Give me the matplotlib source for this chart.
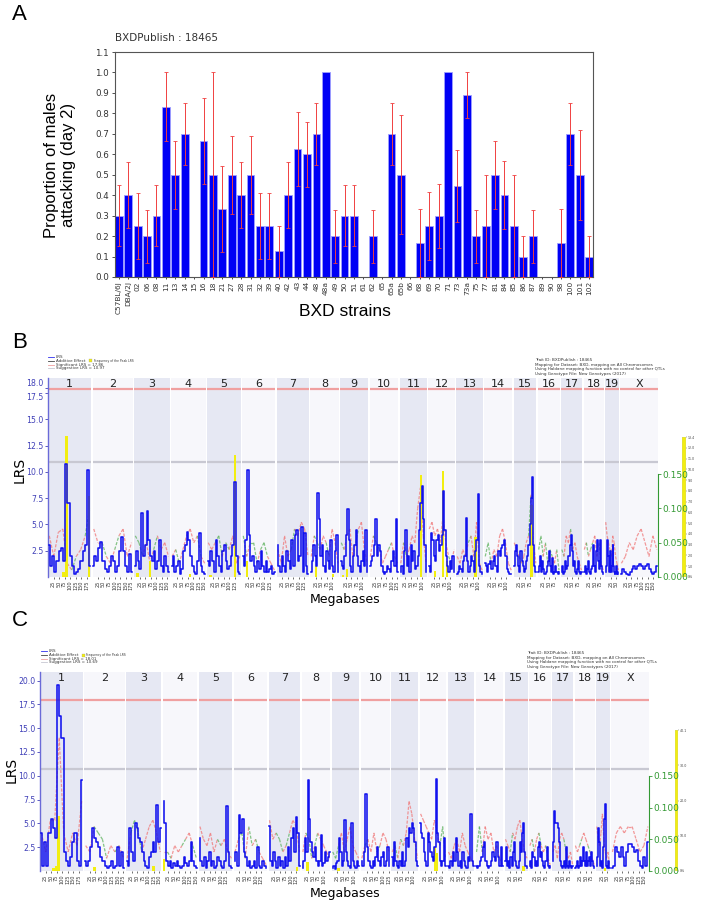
import numpy as np
import matplotlib
matplotlib.use('Agg')
import matplotlib.pyplot as plt
from matplotlib.lines import Line2D
from matplotlib.patches import Rectangle

# ---------------- Panel A data ----------------
strains = ['C57BL/6J', 'DBA/2J', '02', '06', '08', '11', '13', '14', '15', '16', '18', '21', '27', '28',
           '31', '32', '39', '40', '42', '43', '44', '48', '48a', '49', '50', '51', '61', '62', '65', '65a',
           '65b', '66', '68', '69', '70', '71', '73', '73a', '75', '77', '81', '84', '85', '86', '87', '89',
           '90', '98', '100', '101', '102']
values = [0.30, 0.40, 0.25, 0.20, 0.30, 0.833, 0.50, 0.70, 0, 0.667, 0.50, 0.333, 0.50, 0.40, 0.50,
          0.25, 0.25, 0.125, 0.40, 0.625, 0.60, 0.70, 1.0, 0.20, 0.30, 0.30, 0, 0.20, 0, 0.70,
          0.50, 0, 0.167, 0.25, 0.30, 1.0, 0.444, 0.889, 0.20, 0.25, 0.50, 0.40, 0.25, 0.10, 0.20, 0,
          0, 0.167, 0.70, 0.50, 0.10]
se = [0.15, 0.16, 0.16, 0.13, 0.15, 0.167, 0.167, 0.15, 0, 0.21, 0.50, 0.21, 0.19, 0.16, 0.19,
      0.16, 0.16, 0.125, 0.16, 0.18, 0.16, 0.15, 0, 0.13, 0.15, 0.15, 0, 0.13, 0, 0.15,
      0.29, 0, 0.167, 0.166, 0.156, 0, 0.176, 0.111, 0.13, 0.25, 0.167, 0.165, 0.25, 0.10, 0.13, 0,
      0, 0.167, 0.15, 0.22, 0.10]

# ---------------- Genome panels data ----------------
chrom_names = ['1', '2', '3', '4', '5', '6', '7', '8', '9', '10', '11', '12', '13', '14', '15', '16',
               '17', '18', '19', 'X']
chrom_len = [195, 182, 160, 157, 152, 150, 145, 129, 125, 131, 122, 120, 120, 125, 104, 98, 95, 91, 61, 171]

lrs_B = [
    [3.0, 1.0, 2.0, 0.5, 1.5, 2.5, 2.8, 1.5, 10.8, 7.0, 2.0, 1.0, 0.3, 0.5, 0.8, 1.5, 2.5, 3.0, 10.2, 1.0],
    [1.0, 2.0, 1.5, 2.8, 3.3, 1.5, 0.8, 0.5, 1.0, 2.0, 1.5, 0.5, 1.0, 2.5, 3.8, 2.5, 1.0, 0.5, 2.2, 0.5],
    [1.0, 2.5, 1.5, 0.8, 6.1, 2.0, 3.0, 6.3, 3.5, 2.0, 1.5, 2.5, 0.8, 1.5, 3.5, 1.0, 0.5, 2.0, 1.0, 0.5],
    [1.0, 2.0, 0.5, 1.0, 1.5, 0.3, 0.8, 2.5, 3.0, 4.3, 3.5, 2.0, 1.0, 0.5, 0.3, 1.5, 4.2, 1.0, 0.5, 0.3],
    [1.5, 1.0, 2.5, 1.5, 0.5, 3.5, 2.0, 1.0, 0.5, 2.5, 3.0, 1.5, 0.8, 1.0, 2.0, 3.0, 9.0, 2.0, 0.5, 0.3],
    [2.0, 1.0, 3.5, 10.2, 4.0, 1.5, 2.0, 1.0, 0.5, 1.5, 0.8, 2.5, 1.0, 0.5, 1.5, 0.5, 0.8, 1.0, 0.3, 0.5],
    [3.0, 1.0, 0.5, 2.0, 1.0, 0.5, 2.5, 1.5, 0.8, 3.5, 1.0, 4.0, 4.5, 1.5, 2.0, 4.8, 0.5, 4.2, 1.0, 0.3],
    [0.5, 1.5, 3.0, 2.0, 1.0, 8.0, 5.5, 2.0, 3.0, 1.0, 0.5, 2.5, 1.5, 0.8, 3.5, 1.0, 0.5, 2.5, 4.0, 0.5],
    [1.5, 1.0, 0.8, 2.0, 4.0, 6.5, 3.5, 1.0, 0.5, 2.0, 3.0, 4.5, 2.0, 1.0, 0.5, 1.5, 2.5, 1.0, 4.5, 0.5],
    [1.0, 1.5, 2.0, 3.0, 5.5, 2.0, 3.0, 2.5, 1.0, 0.5, 0.3, 0.5, 1.0, 0.8, 0.5, 1.5, 2.5, 1.0, 5.5, 0.5],
    [0.5, 1.0, 0.3, 2.5, 4.5, 1.0, 2.0, 0.5, 3.0, 1.5, 2.5, 0.8, 1.0, 2.0, 4.5, 7.0, 8.7, 5.5, 3.0, 0.5],
    [1.0, 0.5, 4.2, 3.5, 2.0, 1.5, 3.5, 4.0, 2.5, 3.0, 4.0, 8.2, 4.5, 2.0, 1.0, 0.5, 1.5, 0.8, 2.0, 0.5],
    [0.3, 0.5, 1.0, 0.8, 0.5, 1.5, 2.0, 5.6, 1.5, 0.5, 1.0, 2.0, 1.5, 0.5, 2.5, 3.5, 7.9, 1.0, 0.5, 0.3],
    [1.3, 1.0, 0.5, 1.2, 1.5, 0.8, 1.5, 2.0, 1.0, 0.5, 2.5, 2.0, 2.8, 3.0, 3.5, 2.0, 0.8, 0.5, 0.3, 0.3],
    [1.0, 2.5, 3.0, 2.0, 1.0, 0.5, 2.5, 1.5, 1.0, 0.5, 0.8, 1.5, 2.0, 3.0, 5.0, 7.5, 9.5, 3.0, 1.0, 0.5],
    [0.5, 1.0, 2.0, 0.5, 1.5, 0.8, 0.3, 0.5, 1.0, 1.5, 2.5, 1.0, 0.5, 1.8, 0.3, 0.5, 1.0, 0.5, 0.3, 0.5],
    [0.5, 1.0, 0.3, 0.5, 1.5, 0.8, 1.0, 2.0, 3.0, 4.0, 2.5, 1.0, 1.5, 0.5, 0.3, 0.8, 1.5, 0.5, 0.3, 0.5],
    [0.5, 1.0, 0.3, 0.8, 1.5, 0.5, 0.3, 0.8, 1.0, 3.0, 1.0, 0.5, 2.5, 3.5, 1.5, 0.8, 3.5, 1.0, 0.5, 0.3],
    [0.5, 1.0, 3.0, 3.5, 2.0, 1.0, 0.5, 2.5, 1.5, 0.5, 1.0, 3.0, 1.0, 0.5, 0.3, 0.5, 1.0, 0.3, 0.5, 0.3],
    [0.3, 0.8, 0.5, 0.3, 0.2, 0.5, 0.8, 1.0, 0.8, 1.0, 1.2, 1.0, 0.8, 1.0, 1.2, 0.8, 0.5, 0.3, 0.5, 1.0],
]
add_B = [
    [0.06, 0.03, 0.065, 0.07, 0.02, -0.01, 0.03, 0.04, -0.06, 0.10],
    [0.07, 0.05, -0.05, 0.03, 0.02, -0.04, 0.06, 0.07, 0.03, 0.05],
    [-0.06, -0.05, 0.03, 0.05, 0.02, -0.04, 0.06, 0.04, 0.05, 0.03],
    [0.03, -0.04, 0.02, 0.04, 0.06, 0.07, 0.05, -0.06, 0.03, 0.02],
    [0.05, 0.04, -0.05, -0.06, 0.03, -0.05, 0.04, 0.06, 0.02, 0.03],
    [-0.06, 0.03, -0.05, -0.05, 0.02, -0.04, -0.05, 0.03, 0.02, 0.01],
    [0.04, 0.02, 0.06, 0.03, -0.04, 0.07, 0.06, 0.08, 0.07, 0.03],
    [0.03, -0.06, -0.05, 0.04, 0.06, -0.05, 0.03, 0.07, 0.05, 0.02],
    [-0.05, 0.04, 0.06, 0.07, 0.03, -0.05, 0.07, 0.08, 0.04, 0.02],
    [0.03, -0.06, -0.05, 0.04, 0.02, 0.03, -0.04, 0.05, 0.03, 0.02],
    [0.02, -0.05, 0.03, 0.04, 0.06, 0.05, 0.10, 0.13, 0.06, 0.02],
    [0.07, 0.08, 0.06, 0.07, 0.05, 0.09, 0.05, -0.03, 0.02, -0.04],
    [0.03, 0.02, 0.04, 0.03, -0.05, 0.06, 0.03, 0.08, 0.02, 0.01],
    [-0.03, -0.05, 0.02, 0.04, 0.03, 0.06, 0.07, 0.05, 0.02, 0.01],
    [0.05, 0.04, -0.03, 0.02, 0.03, 0.05, -0.06, 0.12, 0.05, 0.02],
    [-0.04, -0.06, 0.03, -0.05, 0.02, -0.04, 0.03, 0.02, -0.04, 0.01],
    [-0.04, 0.03, 0.06, 0.05, -0.07, 0.04, 0.05, 0.03, 0.02, 0.01],
    [0.04, -0.05, 0.03, -0.04, 0.05, 0.06, 0.03, -0.05, 0.02, 0.01],
    [0.08, 0.06, 0.05, -0.04, 0.03, 0.06, 0.05, 0.03, 0.02, 0.01],
    [0.02, 0.03, 0.05, 0.04, 0.06, 0.07, 0.05, 0.03, 0.06, 0.04],
]
# bootstrap bars: chromosome index, position in Mb, height in LRS units
yellow_B_chr = [0, 0, 0, 0, 2, 2, 3, 4, 4, 5, 7, 7, 8, 8, 10, 11, 11, 11, 12, 14]
yellow_B_pos = [70, 78, 83, 186, 72, 15, 86, 125, 15, 22, 26, 103, 31, 12, 96, 66, 30, 84, 86, 82]
yellow_B_h = [0.5, 0.5, 13.4, 7.7, 1.5, 0.4, 0.3, 11.6, 0.2, 1.5, 1.0, 0.3, 0.8, 0.2, 9.7, 10.1, 0.6, 1.5, 3.8, 6.9]

lrs_C = [
    [4.0, 0.5, 3.0, 0.5, 4.0, 5.5, 4.5, 3.5, 19.5, 16.3, 14.0, 2.0, 1.0, 0.5, 1.5, 3.0, 4.0, 1.0, 0.5, 9.6],
    [1.0, 0.5, 1.0, 2.5, 4.5, 3.5, 3.0, 2.5, 1.5, 1.0, 0.5, 0.3, 0.5, 1.0, 0.3, 0.5, 2.5, 0.5, 2.0, 0.3],
    [1.0, 0.5, 4.5, 2.0, 1.0, 5.0, 4.5, 3.5, 3.0, 2.0, 1.0, 0.5, 0.3, 1.5, 2.0, 3.0, 2.0, 6.9, 3.0, 4.5],
    [7.3, 5.0, 1.0, 0.5, 1.0, 0.3, 0.8, 0.5, 1.0, 0.5, 0.3, 0.5, 1.5, 0.8, 0.5, 1.0, 3.0, 1.0, 0.5, 0.3],
    [3.5, 1.0, 0.5, 1.5, 0.3, 1.0, 2.0, 0.5, 1.0, 0.3, 0.5, 1.5, 1.0, 0.5, 0.3, 1.0, 6.8, 2.0, 0.5, 0.3],
    [1.0, 2.0, 0.5, 5.9, 4.0, 5.5, 2.0, 1.5, 0.5, 1.0, 0.3, 0.5, 1.0, 0.3, 2.5, 0.5, 0.3, 1.0, 0.5, 0.3],
    [4.7, 1.0, 0.5, 2.0, 1.0, 0.3, 1.5, 0.5, 1.0, 0.3, 1.5, 0.5, 2.5, 1.0, 3.5, 4.5, 2.0, 5.7, 4.0, 0.5],
    [0.3, 1.0, 3.5, 2.0, 9.6, 5.5, 3.0, 2.0, 1.5, 2.5, 1.0, 0.5, 1.0, 3.8, 0.5, 0.8, 2.0, 1.0, 1.5, 2.0],
    [0.3, 0.5, 0.2, 0.8, 1.0, 3.5, 2.0, 0.5, 1.0, 5.4, 2.0, 1.0, 0.5, 0.3, 5.0, 1.0, 0.5, 0.3, 1.0, 0.5],
    [1.0, 0.5, 2.0, 8.1, 2.5, 1.0, 0.5, 0.3, 1.0, 0.5, 1.5, 2.5, 1.0, 0.5, 1.5, 2.0, 0.5, 1.0, 2.5, 0.5],
    [1.5, 0.5, 3.0, 1.0, 0.5, 0.3, 1.0, 0.5, 2.0, 0.5, 1.0, 3.5, 2.5, 4.5, 4.0, 5.0, 4.5, 3.0, 1.0, 0.5],
    [5.0, 4.0, 3.5, 2.0, 1.0, 0.5, 4.0, 3.0, 2.0, 1.5, 1.0, 2.5, 9.7, 4.0, 3.0, 1.0, 0.5, 1.0, 3.5, 0.5],
    [0.5, 0.3, 1.0, 0.5, 2.0, 1.0, 3.5, 2.0, 0.5, 1.0, 0.3, 2.0, 1.0, 0.5, 0.3, 1.5, 1.0, 6.0, 1.0, 0.5],
    [0.5, 0.3, 0.5, 1.0, 1.5, 2.5, 3.0, 1.0, 0.5, 0.3, 0.5, 1.0, 2.0, 1.5, 1.0, 3.0, 1.5, 0.5, 2.5, 0.5],
    [1.0, 2.5, 0.5, 1.0, 0.3, 1.5, 0.5, 2.0, 3.0, 1.0, 0.5, 0.3, 1.0, 3.0, 2.0, 4.0, 5.0, 2.0, 0.5, 0.3],
    [0.5, 1.0, 0.3, 2.0, 1.5, 0.5, 1.0, 0.5, 2.5, 3.0, 1.5, 2.0, 1.0, 0.5, 0.3, 1.0, 2.5, 0.5, 0.3, 0.5],
    [1.0, 3.0, 6.3, 5.0, 5.0, 4.5, 3.0, 1.0, 0.5, 0.3, 0.5, 1.0, 0.3, 2.5, 0.5, 0.3, 1.0, 0.5, 0.3, 0.5],
    [0.3, 0.5, 1.0, 0.3, 0.5, 1.5, 0.5, 1.0, 2.5, 1.0, 0.5, 2.0, 0.5, 1.0, 1.5, 0.5, 2.0, 1.0, 0.5, 0.3],
    [0.5, 1.5, 3.5, 4.5, 3.0, 2.0, 0.5, 1.0, 0.5, 0.3, 2.5, 3.5, 5.5, 7.0, 2.0, 0.5, 0.3, 1.0, 0.5, 0.3],
    [0.3, 0.5, 2.5, 2.0, 1.5, 2.5, 1.5, 0.5, 2.0, 2.8, 2.8, 2.5, 2.0, 2.2, 1.0, 0.5, 0.3, 1.5, 0.5, 3.0],
]
add_C = [
    [0.06, 0.03, 0.08, 0.08, 0.21, 0.06, 0.03, 0.06, 0.04, 0.11],
    [0.04, 0.03, -0.07, -0.06, -0.05, 0.02, 0.04, -0.03, 0.04, 0.02],
    [0.02, -0.06, -0.08, -0.06, 0.03, 0.05, 0.07, 0.08, 0.06, 0.03],
    [0.03, -0.03, 0.02, 0.04, 0.03, -0.04, 0.05, 0.06, -0.04, 0.02],
    [0.07, 0.05, 0.04, 0.06, 0.03, -0.05, 0.04, 0.05, 0.03, 0.02],
    [0.03, -0.05, -0.06, 0.02, -0.07, 0.04, -0.05, 0.03, 0.02, 0.01],
    [0.08, 0.05, -0.06, -0.05, 0.03, -0.04, 0.06, 0.08, 0.07, 0.03],
    [0.03, -0.06, -0.05, 0.02, -0.04, 0.06, 0.05, 0.04, 0.03, 0.02],
    [-0.03, -0.02, 0.04, 0.06, 0.03, 0.05, 0.07, 0.04, 0.03, 0.02],
    [0.02, -0.04, 0.05, 0.03, 0.06, -0.03, 0.04, 0.06, 0.05, 0.03],
    [0.03, -0.04, 0.02, -0.05, 0.04, 0.06, 0.11, 0.09, 0.05, 0.02],
    [0.09, 0.08, 0.07, 0.06, 0.05, 0.08, 0.06, -0.04, -0.07, 0.02],
    [0.03, 0.02, 0.04, 0.05, 0.03, 0.06, 0.04, 0.03, 0.02, 0.01],
    [-0.03, -0.07, 0.03, 0.07, 0.05, 0.06, 0.03, 0.04, 0.02, 0.01],
    [0.05, 0.04, -0.03, 0.06, 0.05, 0.07, 0.08, 0.05, 0.03, 0.02],
    [0.04, -0.05, 0.03, 0.05, -0.06, 0.04, 0.03, -0.04, 0.02, 0.01],
    [0.03, 0.04, 0.02, 0.05, 0.06, -0.05, 0.03, 0.02, 0.03, 0.01],
    [0.04, 0.03, -0.04, 0.05, 0.06, 0.05, -0.04, 0.03, 0.02, 0.01],
    [0.07, 0.05, 0.04, 0.06, 0.09, 0.05, 0.03, 0.02, 0.03, 0.01],
    [0.03, 0.06, 0.07, 0.06, 0.07, 0.07, 0.05, 0.03, 0.04, 0.07],
]
yellow_C_chr = [0, 0, 0, 1, 2, 3, 6, 7, 8, 11, 11, 14, 18]
yellow_C_pos = [62, 72, 84, 45, 125, 5, 128, 25, 30, 68, 75, 85, 40]
yellow_C_h = [0.3, 0.5, 5.8, 0.4, 0.5, 1.3, 0.4, 0.9, 0.3, 2.5, 1.9, 0.5, 0.3]

legend_B = ['LRS', 'Additive Effect', 'Significant LRS = 17.86', 'Suggestive LRS = 10.97']
legend_C = ['LRS', 'Additive Effect', 'Significant LRS = 18.01', 'Suggestive LRS = 10.69']
info_lines = ['Trait ID: BXDPublish : 18465',
              'Mapping for Dataset: BXD, mapping on All Chromosomes',
              'Using Haldane mapping function with no control for other QTLs',
              'Using Genotype File: New Genotypes (2017)']
cbar_B_labels = ['0%', '1.0', '2.0', '3.0', '4.0', '5.0', '6.0', '7.0', '8.0', '9.0', '10.0', '11.0', '12.0', '13.4']
cbar_C_labels = ['0%', '10.0', '20.0', '30.0', '40.1']

# ---------------- figure ----------------
W, H = 704, 910
fig = plt.figure(figsize=(W / 100, H / 100), dpi=100)
fig.patch.set_facecolor('white')


def fx(px):
    return px / W


def fy(py):
    return 1 - py / H


def rect(l, t, r, b):
    return [fx(l), fy(b), fx(r) - fx(l), fy(t) - fy(b)]


# ---------------- Panel A ----------------
axA = fig.add_axes(rect(115, 52, 593, 277))
xa = np.arange(len(strains))
vals = np.array(values)
ses = np.array(se)
axA.bar(xa, vals, width=0.82, color='#0000f5', edgecolor='#a0a0ff', linewidth=0.6, zorder=2)
m = ses > 0
lo = np.minimum(ses, vals)
axA.errorbar(xa[m], vals[m], yerr=[lo[m], ses[m]], fmt='none', ecolor='#f04040',
             elinewidth=0.7, capsize=1.2, capthick=0.6, zorder=3)
axA.set_xlim(-0.41, len(strains) - 0.59)
axA.set_ylim(0, 1.1)
yt = np.round(np.arange(0, 1.101, 0.1), 1)
axA.set_yticks(yt)
axA.set_yticklabels(['%.1f' % v for v in yt])
axA.set_xticks(xa)
axA.set_xticklabels(strains, rotation=90, fontsize=5.3, color='#333333')
axA.tick_params(axis='y', labelsize=6.3, length=2.5, width=0.6, colors='#333333', pad=2)
axA.tick_params(axis='x', length=1.5, width=0.5, pad=1.5)
for s in axA.spines.values():
    s.set_color('#555555')
    s.set_linewidth(0.8)
fig.text(fx(115), fy(38), 'BXDPublish : 18465', fontsize=7.5, color='#333333', ha='left', va='center')
fig.text(fx(60), fy(165), 'Proportion of males\nattacking (day 2)', rotation=90, ha='center', va='center',
         fontsize=12, family='Liberation Sans', linespacing=1.15)
fig.text(fx(345), fy(312), 'BXD strains', ha='center', va='center', fontsize=12.5, family='Liberation Sans')
fig.text(fx(12), fy(15), 'A', ha='left', va='center', fontsize=16, family='Liberation Sans')


# ---------------- Genome panels ----------------
def genome_panel(letter, r, lrs, add, ych, ypos, yh, ytop, lrs_at_015, sig, sugg, yticks, ylabels,
                 num_y, cb_rect, cb_labels, leg, leg_xy, info_xy, letter_xy, lrs_lab_xy, mb_lab_xy,
                 split_top=False):
    gap = 7
    starts = np.concatenate([[0], np.cumsum(np.array(chrom_len) + gap)[:-1]])
    total = starts[-1] + chrom_len[-1]
    add_top = ytop * 0.15 / lrs_at_015

    ax2 = fig.add_axes(r)
    ax = ax2.twinx()
    ax.set_zorder(2)
    ax2.set_zorder(1)
    ax.patch.set_visible(False)
    ax2.set_xlim(0, total)
    ax2.set_ylim(0, add_top)
    ax.set_ylim(0, ytop)

    for i, (s, L) in enumerate(zip(starts, chrom_len)):
        ax2.axvspan(s, s + L, color='#e6e8f3' if i % 2 == 0 else '#f7f7fb', lw=0, zorder=0)
        va = np.array(add[i])
        xp = np.linspace(s + L * 0.03, s + L * 0.97, len(va))
        for k in range(len(va) - 1):
            col = '#f07878' if va[k] >= 0 else '#5fb35f'
            ax2.plot([xp[k], xp[k + 1]], [abs(va[k]), abs(va[k + 1])], color=col, lw=0.9,
                     alpha=0.75, dashes=(2.5, 1.2), zorder=2)
        ax.plot([s, s + L], [sig, sig], color='#f0a0a0', lw=1.6, zorder=1, solid_capstyle='butt')
        ax.plot([s, s + L], [sugg, sugg], color='#c8c8d2', lw=1.6, zorder=1, solid_capstyle='butt')
        ax.text(s + L / 2, num_y, chrom_names[i], ha='center', va='center', fontsize=8, color='#222222',
                zorder=5)

    for c, p, h in zip(ych, ypos, yh):
        ax.bar(starts[c] + p, h, width=11, color='#f2ee10', edgecolor='none', zorder=2)

    for i, (s, L) in enumerate(zip(starts, chrom_len)):
        vl = np.array(lrs[i])
        xp = np.linspace(s + L * 0.02, s + L * 0.98, len(vl))
        ax.plot(xp, vl, color='#1212ee', lw=1.15, drawstyle='steps-mid', zorder=3)

    tpos, tlab = [], []
    for s, L in zip(starts, chrom_len):
        for mb in range(25, L - 4, 25):
            tpos.append(s + mb)
            tlab.append(str(mb))
    ax2.set_xticks(tpos)
    ax2.set_xticklabels(tlab, rotation=90, fontsize=3.6, color='#333333')
    ax2.tick_params(axis='x', length=1.5, width=0.4, pad=1)

    ax2.yaxis.tick_right()
    ax2.set_yticks([0, 0.05, 0.10, 0.15])
    ax2.set_yticklabels(['0.000', '0.050', '0.100', '0.150'])
    ax2.tick_params(axis='y', colors='#339933', labelsize=6.5, length=2, width=0.6, pad=1)
    for k in ['top', 'left', 'bottom']:
        ax2.spines[k].set_visible(False)
    ax2.spines['right'].set_color('#339933')
    ax2.spines['right'].set_bounds(0, 0.15)
    ax2.spines['right'].set_linewidth(0.8)

    ax.yaxis.tick_left()
    ax.set_yticks(yticks)
    ax.set_yticklabels(ylabels)
    ax.tick_params(axis='y', colors='#4040b8', labelsize=5.6, length=2, width=0.6, pad=1)
    if split_top:
        tl = ax.get_yticklabels()
        tl[-1].set_va('bottom')
        tl[-2].set_va('top')
    for k in ['top', 'right', 'bottom']:
        ax.spines[k].set_visible(False)
    ax.spines['left'].set_color('#6a6ad8')
    ax.spines['left'].set_linewidth(1.0)
    ax.tick_params(axis='x', bottom=False, labelbottom=False)

    cax = fig.add_axes(cb_rect)
    cax.add_patch(Rectangle((0, 0), 1, 1, facecolor='#f2ee10', edgecolor='#bbbbbb', lw=0.3))
    cax.set_xlim(0, 1)
    cax.set_ylim(0, 1)
    cax.set_xticks([])
    cax.yaxis.tick_right()
    cax.set_yticks(np.linspace(0, 1, len(cb_labels)))
    cax.set_yticklabels(cb_labels)
    cax.tick_params(axis='y', labelsize=2.3, length=1, width=0.3, pad=0.5, colors='#444444')
    for sp in cax.spines.values():
        sp.set_visible(False)

    lx, ly = leg_xy
    cols = ['#3030ee', '#444444', '#f0a0a0', '#c8c8d2']
    for j, (t, c) in enumerate(zip(leg, cols)):
        yy = ly + j * 3.8
        fig.add_artist(Line2D([fx(lx), fx(lx + 6)], [fy(yy), fy(yy)], color=c, lw=0.6))
        fig.text(fx(lx + 8), fy(yy), t, fontsize=2.9, va='center', ha='left', color='#333333')
    fig.add_artist(Rectangle((fx(lx + 41), fy(ly + 5.5)), fx(3), fy(0) - fy(3), facecolor='#f2ee10',
                             edgecolor='#999999', lw=0.2, transform=fig.transFigure))
    fig.text(fx(lx + 45.5), fy(ly + 4), 'Frequency of the Peak LRS', fontsize=2.2, va='center', ha='left',
             color='#333333')
    ix, iy = info_xy
    for j, t in enumerate(info_lines):
        fig.text(fx(ix), fy(iy + j * 4.7), t, fontsize=3.0, va='center', ha='left', color='#333333')

    fig.text(fx(letter_xy[0]), fy(letter_xy[1]), letter, ha='left', va='center', fontsize=16,
             family='Liberation Sans')
    fig.text(fx(lrs_lab_xy[0]), fy(lrs_lab_xy[1]), 'LRS', rotation=90, ha='center', va='center',
             fontsize=10)
    fig.text(fx(mb_lab_xy[0]), fy(mb_lab_xy[1]), 'Megabases', ha='center', va='center', fontsize=9)


genome_panel('B', rect(48, 378, 658, 577), lrs_B, add_B, yellow_B_chr, yellow_B_pos, yellow_B_h,
             18.95, 9.8, 17.86, 10.97,
             [2.5, 5.0, 7.5, 10.0, 12.5, 15.0, 17.5, 18.0],
             ['2.5', '5.0', '7.5', '10.0', '12.5', '15.0', '17.5', '18.0'],
             18.4, rect(682, 437, 686, 577), cbar_B_labels, legend_B, (48, 357), (535, 360),
             (12, 343), (20, 470), (345, 600), split_top=True)
genome_panel('C', rect(40, 672, 649, 871), lrs_C, add_C, yellow_C_chr, yellow_C_pos, yellow_C_h,
             20.9, 10.0, 18.01, 10.69,
             [2.5, 5.0, 7.5, 10.0, 12.5, 15.0, 17.5, 20.0],
             ['2.5', '5.0', '7.5', '10.0', '12.5', '15.0', '17.5', '20.0'],
             20.3, rect(675, 730, 678, 871), cbar_C_labels, legend_C, (41, 651), (527, 653),
             (12, 620), (12, 770), (345, 893))

fig.savefig('out.png', dpi=100, facecolor='white')
